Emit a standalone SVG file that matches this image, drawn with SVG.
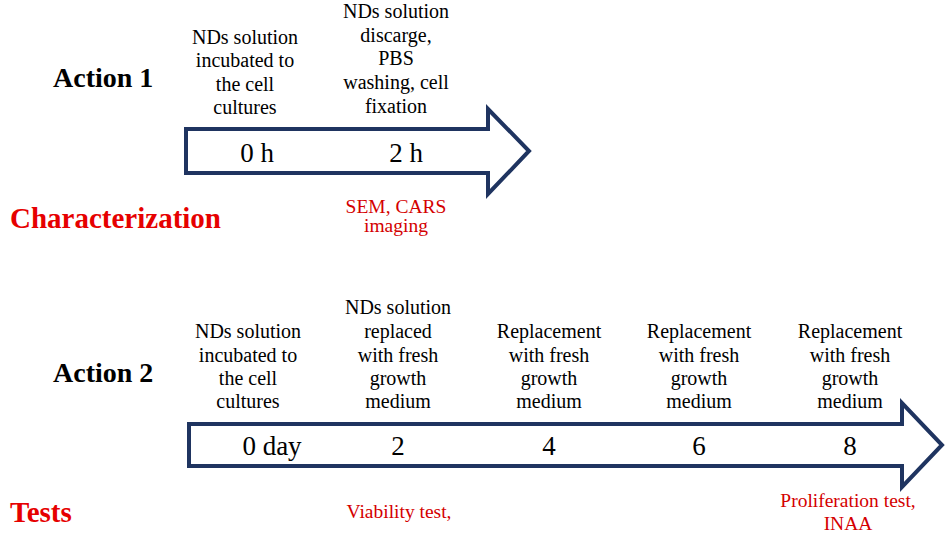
<svg xmlns="http://www.w3.org/2000/svg" width="948" height="540" viewBox="0 0 948 540">
<style>
  .bg { fill: #ffffff; }
  .arrow { fill: #ffffff; stroke: #1F3460; stroke-width: 4; stroke-linejoin: miter; }
  text { font-family: 'Liberation Serif', 'Times New Roman', Times, 'Nimbus Roman', 'Noto Serif', 'DejaVu Serif', serif; }
  .t { font-size: 20px; fill: #000000; text-anchor: middle; }
  .num { font-size: 27px; fill: #000000; text-anchor: middle; }
  .red { font-size: 19.5px; fill: #D40000; text-anchor: middle; }
  .head { font-size: 28px; font-weight: bold; fill: #000000; }
  .headred { font-size: 29px; font-weight: bold; fill: #E60000; }
</style>
<rect class="bg" x="0" y="0" width="948" height="540"/>

<g id="connectors">
  <path id="timeline-1" class="arrow" d="M186,129 L488,129 L488,109 L529,151 L488,194 L488,173 L186,173 Z"/>
  <path id="timeline-2" class="arrow" d="M189,424 L902,424 L902,403 L942,445 L902,487 L902,466 L189,466 Z"/>
</g>

<g id="label-action1"><text class="head" x="53" y="87">Action 1</text></g>
<g id="label-characterization"><text class="headred" x="10" y="228">Characterization</text></g>
<g id="label-action2"><text class="head" x="53" y="382">Action 2</text></g>
<g id="label-tests"><text class="headred" x="10" y="522">Tests</text></g>

<g id="a1-step0">
  <text class="t" x="245" y="44">NDs solution</text>
  <text class="t" x="245" y="67">incubated to</text>
  <text class="t" x="245" y="91">the cell</text>
  <text class="t" x="245" y="114">cultures</text>
  <text class="num" x="257" y="162">0 h</text>
</g>
<g id="a1-step2">
  <text class="t" x="396" y="18">NDs solution</text>
  <text class="t" x="396" y="42">discarge,</text>
  <text class="t" x="396" y="65">PBS</text>
  <text class="t" x="396" y="89">washing, cell</text>
  <text class="t" x="396" y="113">fixation</text>
  <text class="num" x="406" y="162">2 h</text>
  <text class="red" x="396" y="213">SEM, CARS</text>
  <text class="red" x="396" y="232">imaging</text>
</g>

<g id="a2-day0">
  <text class="t" x="248" y="338">NDs solution</text>
  <text class="t" x="248" y="362">incubated to</text>
  <text class="t" x="248" y="385">the cell</text>
  <text class="t" x="248" y="408">cultures</text>
  <text class="num" x="272" y="455">0 day</text>
</g>
<g id="a2-day2">
  <text class="t" x="398" y="314">NDs solution</text>
  <text class="t" x="398" y="338">replaced</text>
  <text class="t" x="398" y="362">with fresh</text>
  <text class="t" x="398" y="385">growth</text>
  <text class="t" x="398" y="408">medium</text>
  <text class="num" x="398" y="455">2</text>
  <text class="red" x="399" y="518">Viability test,</text>
</g>
<g id="a2-day4">
  <text class="t" x="549" y="338">Replacement</text>
  <text class="t" x="549" y="362">with fresh</text>
  <text class="t" x="549" y="385">growth</text>
  <text class="t" x="549" y="408">medium</text>
  <text class="num" x="549" y="455">4</text>
</g>
<g id="a2-day6">
  <text class="t" x="699" y="338">Replacement</text>
  <text class="t" x="699" y="362">with fresh</text>
  <text class="t" x="699" y="385">growth</text>
  <text class="t" x="699" y="408">medium</text>
  <text class="num" x="699" y="455">6</text>
</g>
<g id="a2-day8">
  <text class="t" x="850" y="338">Replacement</text>
  <text class="t" x="850" y="362">with fresh</text>
  <text class="t" x="850" y="385">growth</text>
  <text class="t" x="850" y="408">medium</text>
  <text class="num" x="850" y="455">8</text>
  <text class="red" x="848" y="507">Proliferation test,</text>
  <text class="red" x="848" y="530">INAA</text>
</g>
</svg>
